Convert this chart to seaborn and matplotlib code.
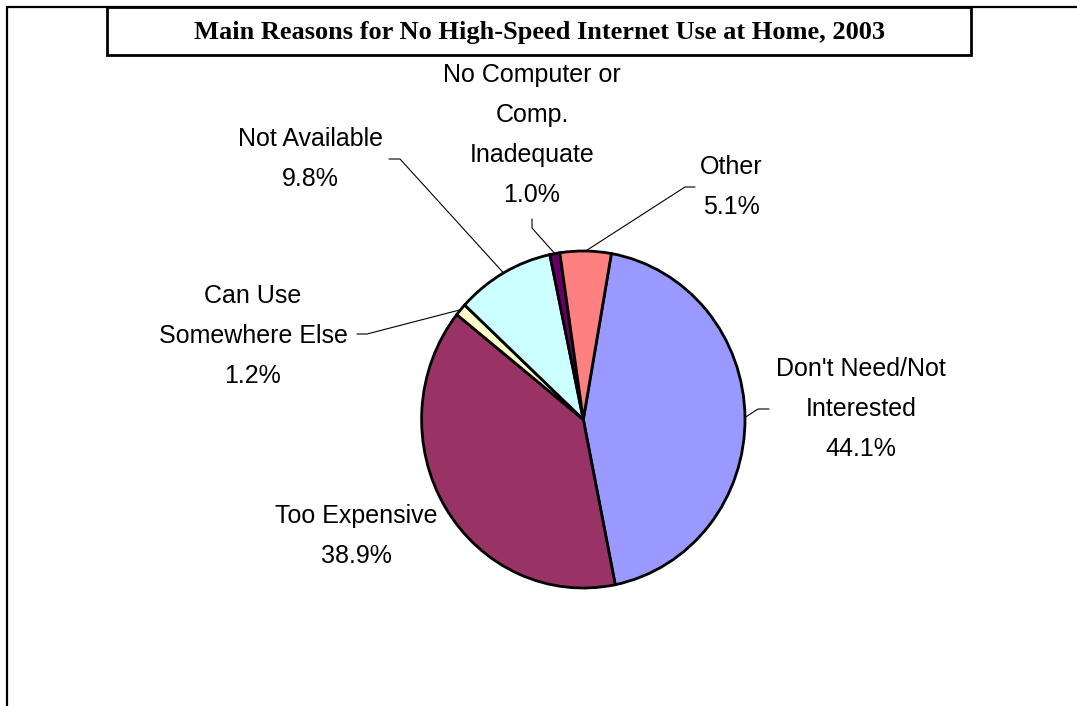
import numpy as np
import matplotlib
matplotlib.use("Agg")
import matplotlib.pyplot as plt
import seaborn as sns
from matplotlib.patches import Rectangle

# --- Datos ---
categories = ["Don't Need/Not\nInterested", "Too Expensive", "Can Use\nSomewhere Else",
              "Not Available", "No Computer or\nComp.\nInadequate", "Other"]
values = [44.1, 38.9, 1.2, 9.8, 1.0, 5.1]
slice_colors = ["#9999FF", "#993366", "#FFFFCC", "#CCFFFF", "#660066", "#FF8080"]
title = "Main Reasons for No High-Speed Internet Use at Home, 2003"

sns.set_theme(style="white")
plt.rcParams["font.family"] = ["Liberation Sans", "DejaVu Sans"]

W, H = 1077, 706
fig = plt.figure(figsize=(W / 100, H / 100), dpi=100)

# capa de anotaciones en pixeles
ov = fig.add_axes([0, 0, 1, 1])
ov.set_xlim(0, W)
ov.set_ylim(H, 0)
ov.axis("off")

# --- Torta ---
cx, cy, rx, ry = 583.3, 419.5, 161.7, 168.5
ax = fig.add_axes([(cx - rx) / W, 1 - (cy + ry) / H, 2 * rx / W, 2 * ry / H])
wedges, _ = ax.pie(values, colors=sns.color_palette(slice_colors), startangle=80,
                   counterclock=False,
                   wedgeprops=dict(edgecolor="black", linewidth=2, clip_on=False))
ax.set_aspect("auto")
ax.set_xlim(-1, 1)
ax.set_ylim(-1, 1)
ax.axis("off")

# posiciones de etiquetas y lineas guia (x, y en pixeles)
label_pos = [(861, 409), (356, 536), (253, 336), (310, 159), (532, 135), (731, 187)]
leader_pts = [
    [(758, 409), (769, 409)],
    None,
    [(367, 334), (357, 334)],
    [(400, 159), (389, 159)],
    [(532, 228), (532, 219)],
    [(685, 187), (695, 187)],
]

for w, cat, val, (lx, ly), pts in zip(wedges, categories, values, label_pos, leader_pts):
    ov.text(lx, ly, f"{cat}\n{val:.1f}%", ha="center", va="center",
            fontsize=18, linespacing=1.85, color="black")
    if pts is not None:
        mid = np.deg2rad((w.theta1 + w.theta2) / 2)
        sx = cx + rx * np.cos(mid)
        sy = cy - ry * np.sin(mid)
        xs = [sx] + [p[0] for p in pts]
        ys = [sy] + [p[1] for p in pts]
        ov.plot(xs, ys, color="black", lw=0.8)

# --- Marco y titulo ---
ov.plot([7, 7], [H, 7], color="black", lw=1.6)
ov.plot([7, W], [7, 7], color="black", lw=1.6)
ov.add_patch(Rectangle((107, 7), 864, 48, fill=False, edgecolor="black", lw=2))
ov.text(539, 32, title, ha="center", va="center", fontsize=19, fontweight="bold",
        color="black", family=["Liberation Serif", "DejaVu Serif"])

plt.savefig("out.png", dpi=100)
